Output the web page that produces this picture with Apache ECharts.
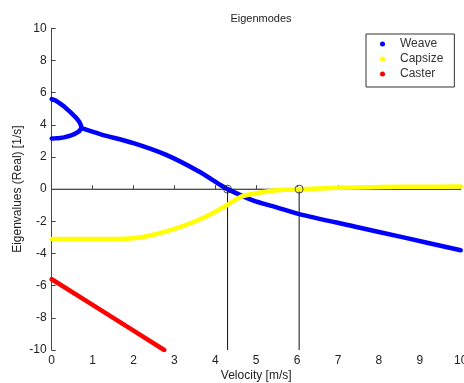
<!DOCTYPE html>
<html>
<head>
<meta charset="utf-8">
<script src="https://cdn.jsdelivr.net/npm/echarts@6/dist/echarts.min.js"></script>
<style>html,body{margin:0;padding:0;background:#fff}#c{width:464px;height:383px}</style>
</head>
<body>
<div id="c"></div>
<script>
// Weave: two branches from v=0 that merge, then one curve
var weaveUpperX = [0, 0.1, 0.2, 0.3, 0.45, 0.55, 0.61, 0.67, 0.71, 0.73];
var weaveUpperY = [5.6, 5.5, 5.33, 5.15, 4.8, 4.55, 4.4, 4.2, 4.0, 3.79];
var weaveLowerX = [0, 0.1, 0.2, 0.3, 0.45, 0.55, 0.61, 0.67, 0.71, 0.73];
var weaveLowerY = [3.15, 3.16, 3.18, 3.22, 3.32, 3.42, 3.5, 3.6, 3.68, 3.79];
var weaveMainX = [0.73, 1.2, 2.0, 2.8, 3.6, 4.1, 4.3, 4.9, 5.5, 6.05, 7.4, 8.6, 10];
var weaveMainY = [3.79, 3.41, 2.86, 2.13, 1.1, 0.3, 0, -0.68, -1.13, -1.55, -2.32, -3.0, -3.8];
var capsizeX = [0, 1, 1.6, 2.0, 2.4, 2.8, 3.2, 3.6, 4.0, 4.3, 4.6, 4.9, 5.3, 5.7, 6.05, 7, 8, 9, 10];
var capsizeY = [-3.1, -3.1, -3.1, -3.05, -2.88, -2.62, -2.3, -1.9, -1.4, -0.97, -0.5, -0.3, -0.13, -0.04, 0, 0.08, 0.13, 0.15, 0.16];
var casterX = [0, 1, 2, 2.75];
var casterY = [-5.6, -7.2, -8.8, -10];
// Stability boundaries (weave speed, capsize speed)
var markerX = [4.3, 6.05];
var markerY = [0, 0];
var xTicks = [0, 10, 1];
var yTicks = [-10, 10, 2];

function pairs(xs, ys) { return xs.map(function (x, i) { return [x, ys[i]]; }); }
var vlines = [];
markerX.forEach(function (x, i) { vlines.push([x, markerY[i]]); vlines.push([x, yTicks[0]]); vlines.push([null, null]); });

var font = 'Liberation Sans, Arial, sans-serif';
var chart = echarts.init(document.getElementById('c'), null, { renderer: 'canvas' });
var curve = function (name, color, data, smooth) {
  return { name: name, type: 'line', data: data, symbol: 'none', smooth: smooth,
    lineStyle: { color: color, width: 4.5, cap: 'round', join: 'round' }, itemStyle: { color: color }, z: 3, silent: true };
};
chart.setOption({
  animation: false,
  title: { text: 'Eigenmodes', left: 256, top: 8, textAlign: 'center',
    textStyle: { fontFamily: font, fontSize: 11, fontWeight: 'normal', color: '#222' } },
  grid: { left: 51.7, right: 3.3, top: 28.3, bottom: 33, containLabel: false, outerBoundsMode: 'none' },
  legend: {
    data: ['Weave', 'Capsize', 'Caster'], orient: 'vertical', left: 366, top: 34,
    icon: 'circle', itemWidth: 5, itemHeight: 5, itemGap: 1,
    borderColor: '#333', borderWidth: 1, borderRadius: 0, backgroundColor: '#fff',
    padding: [3, 11, 6, 14],
    textStyle: { fontFamily: font, fontSize: 12, color: '#333', lineHeight: 14, padding: [0, 0, 0, 10] }
  },
  xAxis: {
    type: 'value', min: xTicks[0], max: xTicks[1], interval: xTicks[2],
    name: 'Velocity [m/s]', nameLocation: 'middle', nameGap: 20, nameMoveOverlap: false,
    nameTextStyle: { fontFamily: font, fontSize: 12, color: '#222' },
    axisLine: { lineStyle: { color: '#444', width: 1 } },
    axisTick: { inside: true, length: 4, lineStyle: { color: '#444' } },
    axisLabel: { fontFamily: font, fontSize: 12, color: '#222', margin: 5 },
    splitLine: { show: false }
  },
  yAxis: {
    type: 'value', min: yTicks[0], max: yTicks[1], interval: yTicks[2],
    name: 'Eigenvalues (Real) [1/s]', nameLocation: 'middle', nameGap: 28, nameMoveOverlap: false,
    nameTextStyle: { fontFamily: font, fontSize: 12, color: '#222' },
    axisLine: { show: true, lineStyle: { color: '#444', width: 1 } },
    axisTick: { show: true, inside: true, length: 4, lineStyle: { color: '#444' } },
    axisLabel: { fontFamily: font, fontSize: 12, color: '#222', margin: 5 },
    splitLine: { show: false }
  },
  series: [
    { name: 'zero', type: 'line', data: [[xTicks[0], 0], [xTicks[1], 0]], symbol: 'none',
      lineStyle: { color: '#555', width: 1 }, z: 1, silent: true },
    { name: 'bounds', type: 'line', data: vlines, symbol: 'none', connectNulls: false,
      lineStyle: { color: '#111', width: 1 }, z: 1, silent: true },
    curve('Weave', '#0000ff', pairs(weaveUpperX, weaveUpperY), false),
    curve('Weave', '#0000ff', pairs(weaveLowerX, weaveLowerY), false),
    curve('Weave', '#0000ff', pairs(weaveMainX, weaveMainY), 0.3),
    curve('Capsize', '#ffff00', pairs(capsizeX, capsizeY), 0.3),
    curve('Caster', '#ff0000', pairs(casterX, casterY), false),
    { name: 'markers', type: 'scatter', data: pairs(markerX, markerY), symbol: 'circle', symbolSize: 8,
      itemStyle: { color: 'rgba(0,0,0,0)', borderColor: '#222', borderWidth: 1 }, z: 5, silent: true }
  ]
});
</script>
</body>
</html>
